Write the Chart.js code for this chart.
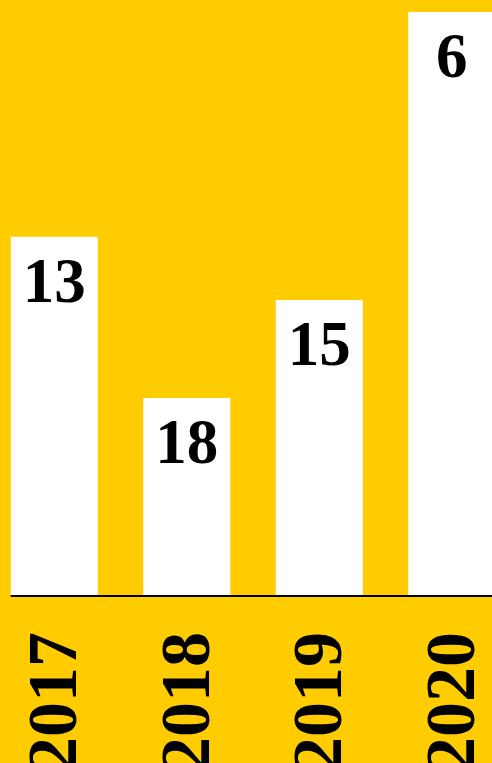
<!DOCTYPE html>
<html>
<head>
<meta charset="utf-8">
<script src="https://cdn.jsdelivr.net/npm/chart.js@4.4.1/dist/chart.umd.min.js"></script>
<style>
    html, body { margin: 0; padding: 0; width: 492px; height: 763px; overflow: hidden; background: #ffcc00; }
    #rankChart { position: absolute; left: -12px; top: 0; }
</style>
</head>
<body>
<canvas id="rankChart" width="530" height="763" style="width:530px;height:763px"></canvas>
<script>
// years, bar heights and the rank written on each bar
const years = ['2017', '2018', '2019', '2020'];
const values = [60.2, 33.1, 49.6, 98.0];
const ranks = ['13', '18', '15', '6'];

const serif = '"Liberation Serif", "DejaVu Serif", serif';

// rank text near the top of each bar + black baseline starting at first bar
const barText = {
    id: 'barText',
    afterDatasetsDraw(chart) {
        const ctx = chart.ctx;
        const bars = chart.getDatasetMeta(0).data;
        ctx.save();
        ctx.fillStyle = '#000';
        ctx.font = 'bold 63px ' + serif;
        ctx.textAlign = 'center';
        ctx.textBaseline = 'middle';
        bars.forEach((bar, i) => {
            ctx.fillText(ranks[i], bar.x, bar.y + 49);
        });
        const y0 = chart.scales.y.getPixelForValue(0);
        ctx.strokeStyle = '#000';
        ctx.lineWidth = 2;
        ctx.beginPath();
        ctx.moveTo(bars[0].x - bars[0].width / 2, y0 + 1);
        ctx.lineTo(chart.chartArea.right, y0 + 1);
        ctx.stroke();
        ctx.restore();
    }
};

document.addEventListener('DOMContentLoaded', () => {
    const ctx = document.getElementById('rankChart');
    new Chart(ctx, {
        type: 'bar',
        data: {
            labels: years,
            datasets: [{
                data: values,
                backgroundColor: '#ffffff',
                borderWidth: 0,
                categoryPercentage: 1,
                barPercentage: 0.657
            }]
        },
        options: {
            responsive: false,
            animation: false,
            layout: { padding: 0 },
            plugins: {
                legend: { display: false },
                tooltip: { enabled: false }
            },
            scales: {
                x: {
                    grid: { display: false, drawTicks: false },
                    border: { display: false },
                    ticks: {
                        color: '#000',
                        font: { family: serif, size: 70, weight: 'bold' },
                        minRotation: 90,
                        maxRotation: 90,
                        padding: 37,
                        labelOffset: 4
                    },
                    afterFit: (scale) => {
                        scale.height = 168;
                        scale.paddingLeft = 0;
                        scale.paddingRight = 0;
                    }
                },
                y: {
                    display: false,
                    min: 0,
                    max: 100
                }
            }
        },
        plugins: [barText]
    });
});
</script>
</body>
</html>
